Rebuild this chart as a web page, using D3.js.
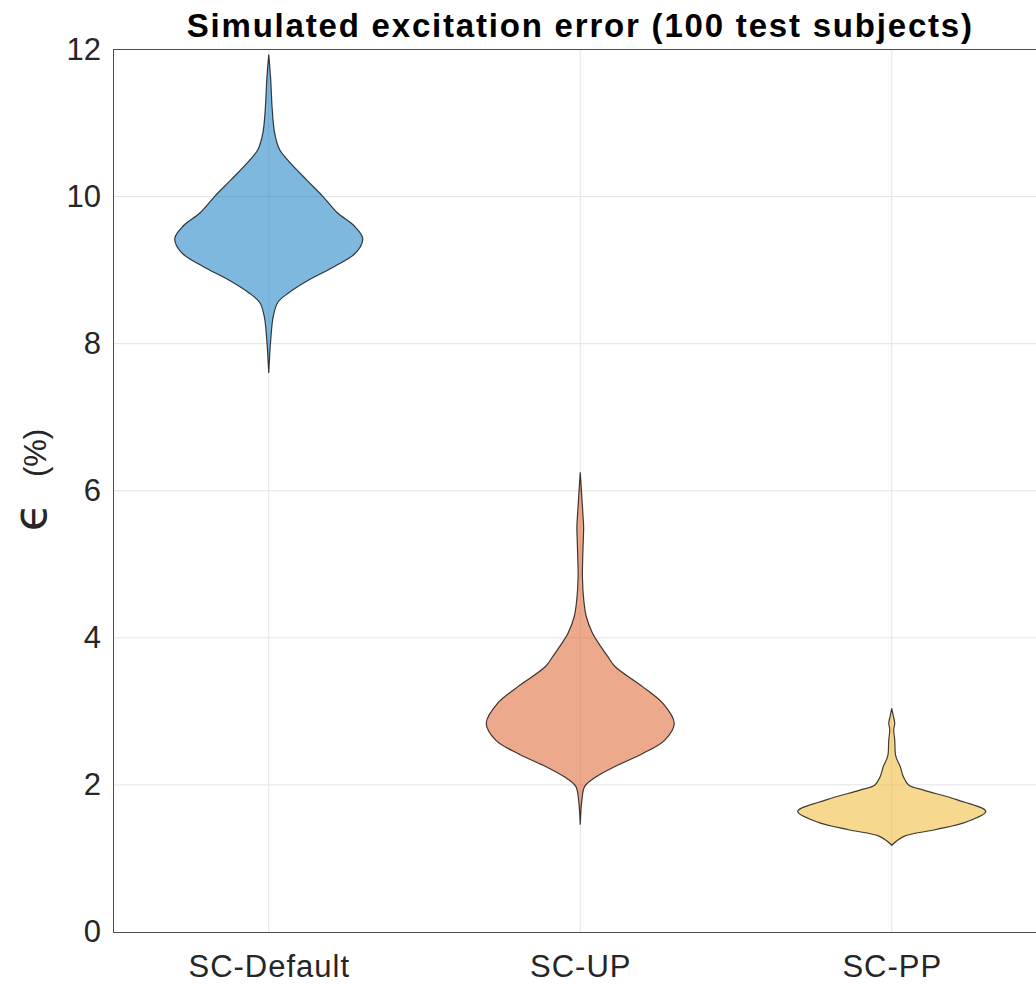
<!DOCTYPE html>
<html>
<head>
<meta charset="utf-8">
<style>
  body { margin: 0; background: #fff; }
  svg { font-family: "Liberation Sans", Arial, sans-serif; }
  .grid line { stroke: #e3e3e3; stroke-width: 1; }
  .axis text { fill: #262626; font-size: 31px; }
  .violin { stroke: #000; stroke-opacity: 0.75; stroke-width: 1.2; fill-opacity: 0.5; }
</style>
</head>
<body>
<script src="https://d3js.org/d3.v7.min.js"></script>
<script>
// categories and colours (MATLAB default colour order, drawn at half alpha)
var groups = ["SC-Default", "SC-UP", "SC-PP"];
var colors = ["#0072BD", "#D95319", "#EDB120"];
var yTicks = [0, 2, 4, 6, 8, 10, 12];

// violin outlines: [error %, relative half-width]
var scDefault = [[7.6, 0], [8.05, 0.021], [8.37, 0.048], [8.56, 0.096], [8.69, 0.21],
  [8.87, 0.43], [9.05, 0.70], [9.24, 0.93], [9.43, 1.0], [9.6, 0.91], [9.78, 0.73],
  [10.01, 0.57], [10.23, 0.40], [10.5, 0.20], [10.64, 0.115], [10.87, 0.062],
  [11.23, 0.035], [11.59, 0.021], [11.93, 0]];
var scUP = [[1.46, 0], [1.80, 0.018], [1.98, 0.048], [2.11, 0.17], [2.25, 0.37],
  [2.43, 0.67], [2.61, 0.90], [2.84, 1.0], [3.11, 0.88], [3.34, 0.66], [3.61, 0.37],
  [3.75, 0.29], [3.88, 0.22], [4.07, 0.128], [4.29, 0.064], [4.52, 0.037],
  [4.83, 0.023], [5.24, 0.030], [5.51, 0.036], [5.65, 0.030], [6.25, 0]];
var scPP = [[1.18, 0], [1.30, 0.13], [1.39, 0.46], [1.50, 0.80], [1.64, 1.0],
  [1.80, 0.69], [1.93, 0.34], [2.0, 0.18], [2.11, 0.124], [2.25, 0.09],
  [2.39, 0.043], [2.61, 0.032], [2.75, 0.021], [2.84, 0.032], [2.93, 0.018], [3.04, 0]];
var violins = [scDefault, scUP, scPP];

var W = 1036, H = 985;

// plot box runs past the right edge of the picture, like the original
var x = d3.scaleLinear().domain([0.5, 3.5]).range([113, 1047.5]);
var y = d3.scaleLinear().domain([0, 12]).range([932, 49.5]);
var w = d3.scaleLinear().domain([0, 1]).range([0, 94]);

var svg = d3.select("body").append("svg")
    .attr("width", W)
    .attr("height", H);

// grid
var grid = svg.append("g").attr("class", "grid");
grid.selectAll(".gy").data(yTicks.slice(1, -1)).enter().append("line")
    .attr("x1", x(0.5)).attr("x2", x(3.5))
    .attr("y1", d => y(d)).attr("y2", d => y(d));
grid.selectAll(".gx").data([1, 2, 3]).enter().append("line")
    .attr("x1", d => x(d)).attr("x2", d => x(d))
    .attr("y1", y(0)).attr("y2", y(12));

// violins
var area = d3.area()
    .curve(d3.curveCatmullRom.alpha(0.5))
    .y(d => y(d[0]));

violins.forEach(function(v, i) {
  var cx = x(i + 1);
  svg.append("path")
      .datum(v)
      .attr("class", "violin")
      .attr("fill", colors[i])
      .attr("d", area.x0(d => cx - w(d[1])).x1(d => cx + w(d[1])));
});

// axes
svg.append("g")
    .attr("class", "axis")
    .attr("transform", "translate(" + x(0.5) + ",0)")
    .call(d3.axisLeft(y).tickValues(yTicks).tickSize(0).tickPadding(12))
    .call(g => g.select(".domain").attr("stroke", "#4d4d4d"));

svg.append("g")
    .attr("class", "axis xaxis")
    .attr("transform", "translate(0," + y(0) + ")")
    .call(d3.axisBottom(x).tickValues([1, 2, 3]).tickFormat((d, i) => groups[i])
      .tickSize(0).tickPadding(23))
    .call(g => g.select(".domain").attr("stroke", "#4d4d4d"));

svg.selectAll(".xaxis text").style("letter-spacing", "1px");

// top border of the box
svg.append("line")
    .attr("x1", x(0.5)).attr("x2", x(3.5))
    .attr("y1", y(12)).attr("y2", y(12))
    .attr("stroke", "#4d4d4d");

svg.selectAll(".axis text").attr("font-family", "Liberation Sans, Arial, sans-serif");

// title
svg.append("text")
    .attr("x", x(2))
    .attr("y", 37)
    .attr("text-anchor", "middle")
    .style("font-weight", "bold")
    .style("font-size", "33px")
    .style("letter-spacing", "1.8px")
    .style("fill", "#000")
    .text("Simulated excitation error (100 test subjects)");

// y label
var ylab = svg.append("text")
    .attr("transform", "translate(46,480) rotate(-90)")
    .attr("text-anchor", "middle")
    .style("font-size", "31px")
    .style("fill", "#262626")
    .style("white-space", "pre");
ylab.append("tspan")
    .style("font-family", "DejaVu Sans")
    .style("font-weight", "normal")
    .style("font-size", "46px")
    .text("\u03f5");
ylab.append("tspan").text("   (%)");
</script>
</body>
</html>
